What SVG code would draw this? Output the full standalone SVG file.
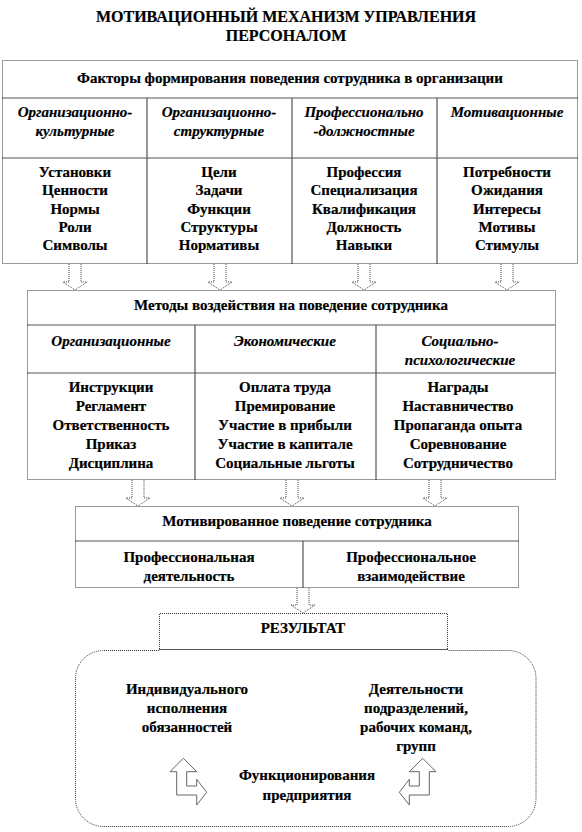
<svg xmlns="http://www.w3.org/2000/svg" width="582" height="832" viewBox="0 0 582 832">
<style>
text{font-family:'Liberation Serif','Times New Roman',serif;font-weight:bold;font-size:15px;fill:#000;stroke:#000;stroke-width:0.2;text-anchor:middle}
.i{font-style:italic}
.t{font-size:16px}
.dot{fill:none;stroke:#333;stroke-width:1;stroke-dasharray:1 1}
.ln{fill:none;stroke:#555;stroke-width:1.2}
.arr{fill:#fff;stroke:#444;stroke-width:1;stroke-dasharray:1 1}
.barr{fill:#fff;stroke:#666;stroke-width:1}
</style>
<rect width="582" height="832" fill="#fff"/>
<g id="title">
<text class="t" x="286" y="22">МОТИВАЦИОННЫЙ  МЕХАНИЗМ УПРАВЛЕНИЯ</text>
<text class="t" x="286" y="41">ПЕРСОНАЛОМ</text>
</g>
<g id="factors">
<line class="ln" x1="2" y1="98" x2="578" y2="98"/>
<line class="ln" x1="2" y1="158" x2="578" y2="158"/>
<line class="ln" x1="147" y1="98" x2="147" y2="264"/>
<line class="ln" x1="292" y1="98" x2="292" y2="264"/>
<line class="ln" x1="437" y1="98" x2="437" y2="264"/>
<rect class="dot" x="2.5" y="60.5" width="575" height="203"/>
<text x="290" y="83">Факторы формирования поведения сотрудника в организации</text>
<text class="i" x="75" y="117">Организационно-</text>
<text class="i" x="75" y="136">культурные</text>
<text class="i" x="219" y="117">Организационно-</text>
<text class="i" x="219" y="136">структурные</text>
<text class="i" x="364" y="117">Профессионально</text>
<text class="i" x="364" y="136">-должностные</text>
<text class="i" x="507" y="117">Мотивационные</text>
<text x="75" y="177">Установки</text>
<text x="75" y="195">Ценности</text>
<text x="75" y="214">Нормы</text>
<text x="75" y="232">Роли</text>
<text x="75" y="250">Символы</text>
<text x="219" y="177">Цели</text>
<text x="219" y="195">Задачи</text>
<text x="219" y="214">Функции</text>
<text x="219" y="232">Структуры</text>
<text x="219" y="250">Нормативы</text>
<text x="364" y="177">Профессия</text>
<text x="364" y="195">Специализация</text>
<text x="364" y="214">Квалификация</text>
<text x="364" y="232">Должность</text>
<text x="364" y="250">Навыки</text>
<text x="507" y="177">Потребности</text>
<text x="507" y="195">Ожидания</text>
<text x="507" y="214">Интересы</text>
<text x="507" y="232">Мотивы</text>
<text x="507" y="250">Стимулы</text>
</g>
<g id="methods">
<line class="ln" x1="27" y1="325" x2="555" y2="325"/>
<line class="ln" x1="27" y1="373" x2="555" y2="373"/>
<line class="ln" x1="195" y1="325" x2="195" y2="480"/>
<line class="ln" x1="376" y1="325" x2="376" y2="480"/>
<rect class="dot" x="27.5" y="290.5" width="528" height="189"/>
<text x="291" y="310">Методы воздействия на поведение сотрудника</text>
<text class="i" x="111" y="346">Организационные</text>
<text class="i" x="285" y="346">Экономические</text>
<text class="i" x="460" y="346">Социально-</text>
<text class="i" x="460" y="365">психологические</text>
<text x="111" y="392">Инструкции</text>
<text x="111" y="411">Регламент</text>
<text x="111" y="430">Ответственность</text>
<text x="111" y="449">Приказ</text>
<text x="111" y="468">Дисциплина</text>
<text x="285" y="392">Оплата труда</text>
<text x="285" y="411">Премирование</text>
<text x="285" y="430">Участие в прибыли</text>
<text x="285" y="449">Участие в капитале</text>
<text x="285" y="468">Социальные льготы</text>
<text x="458" y="392">Награды</text>
<text x="458" y="411">Наставничество</text>
<text x="458" y="430">Пропаганда опыта</text>
<text x="458" y="449">Соревнование</text>
<text x="458" y="468">Сотрудничество</text>
</g>
<g id="behavior">
<line class="ln" x1="75" y1="541" x2="519" y2="541"/>
<line class="ln" x1="303" y1="541" x2="303" y2="588"/>
<rect class="dot" x="75.5" y="506.5" width="443" height="81"/>
<text x="297" y="526">Мотивированное поведение сотрудника</text>
<text x="189" y="562">Профессиональная</text>
<text x="189" y="581">деятельность</text>
<text x="411" y="562">Профессиональное</text>
<text x="411" y="581">взаимодействие</text>
</g>
<g id="result">
<path class="dot" d="M159.5,649 V613.5 H447.5 V649"/>
<line class="ln" x1="159" y1="649.5" x2="448" y2="649.5"/>
<text x="303" y="633">РЕЗУЛЬТАТ</text>
</g>
<g id="outcomes">
<path class="dot" d="M159,650.5 H103.5 A28,28 0 0 0 75.5,678.5 V798.5 A28,28 0 0 0 103.5,826.5 H508 A28,28 0 0 0 536,798.5 V678.5 A28,28 0 0 0 508,650.5 H448"/>
<text x="187" y="694">Индивидуального</text>
<text x="187" y="713">исполнения</text>
<text x="187" y="732">обязанностей</text>
<text x="416" y="694">Деятельности</text>
<text x="416" y="713">подразделений,</text>
<text x="416" y="732">рабочих команд,</text>
<text x="416" y="751">групп</text>
<text x="307" y="780">Функционирования</text>
<text x="307" y="800">предприятия</text>
</g>
<g id="connectors">
<path class="arr" d="M69,264 V282 H63 L75,290 L87,282 H81 V264"/>
<path class="arr" d="M214,264 V282 H208 L220,290 L232,282 H226 V264"/>
<path class="arr" d="M358,264 V282 H352 L364,290 L376,282 H370 V264"/>
<path class="arr" d="M501,264 V282 H495 L507,290 L519,282 H513 V264"/>
<path class="arr" d="M132,480 V498 H126 L138,506 L150,498 H144 V480"/>
<path class="arr" d="M286,480 V498 H280 L292,506 L304,498 H298 V480"/>
<path class="arr" d="M429,480 V498 H423 L435,506 L447,498 H441 V480"/>
<path class="arr" d="M297,588 V605 H291 L303,613 L315,605 H309 V588"/>
<path class="barr" d="M176.7,771.7 V795 H196.7 V805 L206.7,792.3 L196.7,779.3 V786 H186.7 V771.7 H196.7 L183.3,758.3 L170,771.7 Z"/>
<path class="barr" d="M429.3,771.7 V795 H409.3 V805 L399.3,792.3 L409.3,779.3 V786 H419.3 V771.7 H409.3 L422.7,758.3 L436,771.7 Z"/>
</g>
</svg>
